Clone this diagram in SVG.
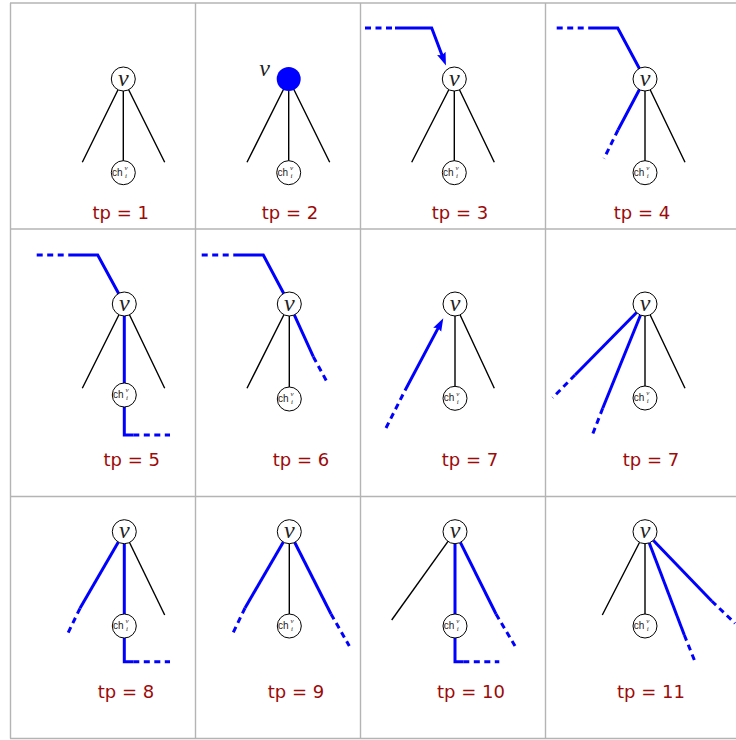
<svg xmlns="http://www.w3.org/2000/svg" width="736" height="740" viewBox="0 0 736 740">
<defs>
<style>
.grid{stroke:#b4b4b4;stroke-width:1.4;fill:none}
.edge{stroke:#000;stroke-width:1.4;fill:none}
.blue{stroke:#0000ff;stroke-width:3;fill:none;stroke-linejoin:miter}
.dash{stroke:#0000ff;stroke-width:3;fill:none;stroke-dasharray:6 4.5}
.node{fill:#fff;stroke:#000;stroke-width:1}
.vl{font-family:"Liberation Serif",serif;font-style:italic;font-size:24px;text-anchor:middle;fill:#222}
.ch{font-family:"Liberation Sans",sans-serif;font-size:10px;fill:#222}
.sx{font-family:"Liberation Serif",serif;font-style:italic;font-size:7px;fill:#222}
.tp{font-family:"DejaVu Sans",sans-serif;font-size:18px;fill:#9c0a0a;text-anchor:middle}
</style>
<marker id="arr" markerUnits="userSpaceOnUse" markerWidth="14" markerHeight="10" refX="3" refY="5" orient="auto" viewBox="0 0 14 10">
<path d="M0,0.5 L13,5 L0,9.5 L2,5 z" fill="#0000ff"/>
</marker>
</defs>
<rect width="736" height="740" fill="#fff"/>
<g id="grid" class="grid">
<line x1="10" y1="3" x2="736" y2="3"/>
<line x1="10" y1="229" x2="736" y2="229"/>
<line x1="10" y1="496.5" x2="736" y2="496.5"/>
<line x1="10" y1="738.5" x2="736" y2="738.5"/>
<line x1="10.5" y1="3" x2="10.5" y2="738.5"/>
<line x1="195.5" y1="3" x2="195.5" y2="738.5"/>
<line x1="360.5" y1="3" x2="360.5" y2="738.5"/>
<line x1="545.5" y1="3" x2="545.5" y2="738.5"/>
</g>
<g id="connectors">
<!-- cell 1 -->
<path class="edge" d="M123.3,79 L82.3,162.3 M123.3,79 L164.7,162.3 M123.3,79 L123.3,172.7"/>
<!-- cell 2 -->
<path class="edge" d="M288.7,79 L247,162.3 M288.7,79 L329.7,162.3 M288.7,79 L288.7,172.7"/>
<!-- cell 3 -->
<path class="edge" d="M454.3,79 L411.7,162.3 M454.3,79 L494.3,162.3 M454.3,79 L454.3,172.7"/>
<line class="dash" x1="365" y1="28" x2="395" y2="28"/>
<polyline class="blue" points="395,28 431.7,28 442.4,56.2" marker-end="url(#arr)"/>
<!-- cell 4 -->
<path class="edge" d="M645,79 L685,162.3 M645,79 L645,172.7"/>
<line class="dash" x1="556.7" y1="28" x2="590" y2="28"/>
<polyline class="blue" points="590,28 617.7,28 645,79 618,130"/>
<line class="dash" x1="618" y1="130" x2="604" y2="158.5"/>
<!-- cell 5 -->
<path class="edge" d="M124.3,304 L82.3,388.3 M124.3,304 L164.7,388.3"/>
<line class="dash" x1="36.7" y1="255" x2="68.3" y2="255"/>
<polyline class="blue" points="68.3,255 97.7,255 124.3,304 124.3,435 133.3,435"/>
<line class="dash" x1="133.3" y1="435" x2="170" y2="435"/>
<!-- cell 6 -->
<path class="edge" d="M289.3,304 L247,388.3 M289.3,304 L289.3,399"/>
<line class="dash" x1="201.7" y1="255" x2="233.3" y2="255"/>
<polyline class="blue" points="233.3,255 263.3,255 289.3,304 313.3,356.7"/>
<line class="dash" x1="313.3" y1="356.7" x2="328.3" y2="384.3"/>
<!-- cell 7a -->
<path class="edge" d="M455,304 L494.3,388.3 M455,304 L455,398.3"/>
<line class="dash" x1="386" y1="428" x2="405" y2="390.5"/>
<line class="blue" x1="405" y1="390.5" x2="438.6" y2="327.1" marker-end="url(#arr)"/>
<!-- cell 7b -->
<path class="edge" d="M645,304 L685,388.3 M645,304 L645,398"/>
<line class="blue" x1="645" y1="304" x2="575" y2="375"/>
<line class="dash" x1="575" y1="375" x2="552.7" y2="397.7"/>
<line class="blue" x1="645" y1="304" x2="602.7" y2="408.3"/>
<line class="dash" x1="602.7" y1="408.3" x2="592.3" y2="435"/>
<!-- cell 8 -->
<path class="edge" d="M124.3,531.7 L164.7,615"/>
<line class="blue" x1="124.3" y1="531.7" x2="80" y2="608.3"/>
<line class="dash" x1="80" y1="608.3" x2="66.7" y2="635.7"/>
<polyline class="blue" points="124.3,531.7 124.3,661.7 133.3,661.7"/>
<line class="dash" x1="133.3" y1="661.7" x2="170" y2="661.7"/>
<!-- cell 9 -->
<path class="edge" d="M289.3,531.7 L289.3,626"/>
<line class="blue" x1="289.3" y1="531.7" x2="245" y2="608"/>
<line class="dash" x1="245" y1="608" x2="231.7" y2="635.7"/>
<line class="blue" x1="289.3" y1="531.7" x2="331" y2="614"/>
<line class="dash" x1="331" y1="614" x2="349.3" y2="646"/>
<!-- cell 10 -->
<path class="edge" d="M455,531.7 L391.7,620"/>
<polyline class="blue" points="455,531.7 455,661.7 463.3,661.7"/>
<line class="dash" x1="463.3" y1="661.7" x2="499.3" y2="661.7"/>
<line class="blue" x1="455" y1="531.7" x2="496" y2="614"/>
<line class="dash" x1="496" y1="614" x2="515" y2="646"/>
<!-- cell 11 -->
<path class="edge" d="M645,531.7 L602.3,615 M645,531.7 L645,626"/>
<line class="blue" x1="645" y1="531.7" x2="684.3" y2="635"/>
<line class="dash" x1="684.3" y1="635" x2="695" y2="661.7"/>
<line class="blue" x1="645" y1="531.7" x2="711.7" y2="601"/>
<line class="dash" x1="711.7" y1="601" x2="735" y2="623.3"/>
</g>
<!-- nodes -->
<g id="c1-v"><circle class="node" cx="123.3" cy="79" r="12"/><text class="vl" x="123.3" y="85.5">v</text></g>
<g id="c1-ch"><circle class="node" cx="123.3" cy="172.7" r="12"/><text class="ch" x="112" y="175.5">ch</text><text class="sx" x="124.5" y="170">v</text><text class="sx" x="125" y="178">i</text></g>
<g id="c2-v"><circle cx="288.7" cy="79" r="12" fill="#0000ff"/><text class="vl" x="264.7" y="75.5">v</text></g>
<g id="c2-ch"><circle class="node" cx="288.7" cy="172.7" r="12"/><text class="ch" x="277.4" y="175.5">ch</text><text class="sx" x="289.9" y="170">v</text><text class="sx" x="290.4" y="178">i</text></g>
<g id="c3-v"><circle class="node" cx="454.3" cy="79" r="12"/><text class="vl" x="454.3" y="85.5">v</text></g>
<g id="c3-ch"><circle class="node" cx="454.3" cy="172.7" r="12"/><text class="ch" x="443" y="175.5">ch</text><text class="sx" x="455.5" y="170">v</text><text class="sx" x="456" y="178">i</text></g>
<g id="c4-v"><circle class="node" cx="645" cy="79" r="12"/><text class="vl" x="645" y="85.5">v</text></g>
<g id="c4-ch"><circle class="node" cx="645" cy="172.7" r="12"/><text class="ch" x="633.7" y="175.5">ch</text><text class="sx" x="646.2" y="170">v</text><text class="sx" x="646.7" y="178">i</text></g>
<g id="c5-v"><circle class="node" cx="124.3" cy="304" r="12"/><text class="vl" x="124.3" y="310.5">v</text></g>
<g id="c5-ch"><circle class="node" cx="124.3" cy="395" r="12"/><text class="ch" x="113" y="397.8">ch</text><text class="sx" x="125.5" y="392.3">v</text><text class="sx" x="126" y="400.3">i</text></g>
<g id="c6-v"><circle class="node" cx="289.3" cy="304" r="12"/><text class="vl" x="289.3" y="310.5">v</text></g>
<g id="c6-ch"><circle class="node" cx="289.3" cy="399" r="12"/><text class="ch" x="278" y="401.8">ch</text><text class="sx" x="290.5" y="396.3">v</text><text class="sx" x="291" y="404.3">i</text></g>
<g id="c7a-v"><circle class="node" cx="455" cy="304" r="12"/><text class="vl" x="455" y="310.5">v</text></g>
<g id="c7a-ch"><circle class="node" cx="455" cy="398.3" r="12"/><text class="ch" x="443.7" y="401.1">ch</text><text class="sx" x="456.2" y="395.6">v</text><text class="sx" x="456.7" y="403.6">i</text></g>
<g id="c7b-v"><circle class="node" cx="645" cy="304" r="12"/><text class="vl" x="645" y="310.5">v</text></g>
<g id="c7b-ch"><circle class="node" cx="645" cy="398" r="12"/><text class="ch" x="633.7" y="400.8">ch</text><text class="sx" x="646.2" y="395.3">v</text><text class="sx" x="646.7" y="403.3">i</text></g>
<g id="c8-v"><circle class="node" cx="124.3" cy="531.7" r="12"/><text class="vl" x="124.3" y="538.2">v</text></g>
<g id="c8-ch"><circle class="node" cx="124.3" cy="626" r="12"/><text class="ch" x="113" y="628.8">ch</text><text class="sx" x="125.5" y="623.3">v</text><text class="sx" x="126" y="631.3">i</text></g>
<g id="c9-v"><circle class="node" cx="289.3" cy="531.7" r="12"/><text class="vl" x="289.3" y="538.2">v</text></g>
<g id="c9-ch"><circle class="node" cx="289.3" cy="626" r="12"/><text class="ch" x="278" y="628.8">ch</text><text class="sx" x="290.5" y="623.3">v</text><text class="sx" x="291" y="631.3">i</text></g>
<g id="c10-v"><circle class="node" cx="455" cy="531.7" r="12"/><text class="vl" x="455" y="538.2">v</text></g>
<g id="c10-ch"><circle class="node" cx="455" cy="626" r="12"/><text class="ch" x="443.7" y="628.8">ch</text><text class="sx" x="456.2" y="623.3">v</text><text class="sx" x="456.7" y="631.3">i</text></g>
<g id="c11-v"><circle class="node" cx="645" cy="531.7" r="12"/><text class="vl" x="645" y="538.2">v</text></g>
<g id="c11-ch"><circle class="node" cx="645" cy="626" r="12"/><text class="ch" x="633.7" y="628.8">ch</text><text class="sx" x="646.2" y="623.3">v</text><text class="sx" x="646.7" y="631.3">i</text></g>
<g id="labels">
<text class="tp" x="120.8" y="219">tp = 1</text>
<text class="tp" x="290" y="219">tp = 2</text>
<text class="tp" x="460" y="219">tp = 3</text>
<text class="tp" x="642" y="219">tp = 4</text>
<text class="tp" x="131.7" y="466">tp = 5</text>
<text class="tp" x="301" y="466">tp = 6</text>
<text class="tp" x="470" y="466">tp = 7</text>
<text class="tp" x="651" y="466">tp = 7</text>
<text class="tp" x="126" y="698">tp = 8</text>
<text class="tp" x="296" y="698">tp = 9</text>
<text class="tp" x="471" y="698">tp = 10</text>
<text class="tp" x="651" y="698">tp = 11</text>
</g>
</svg>
